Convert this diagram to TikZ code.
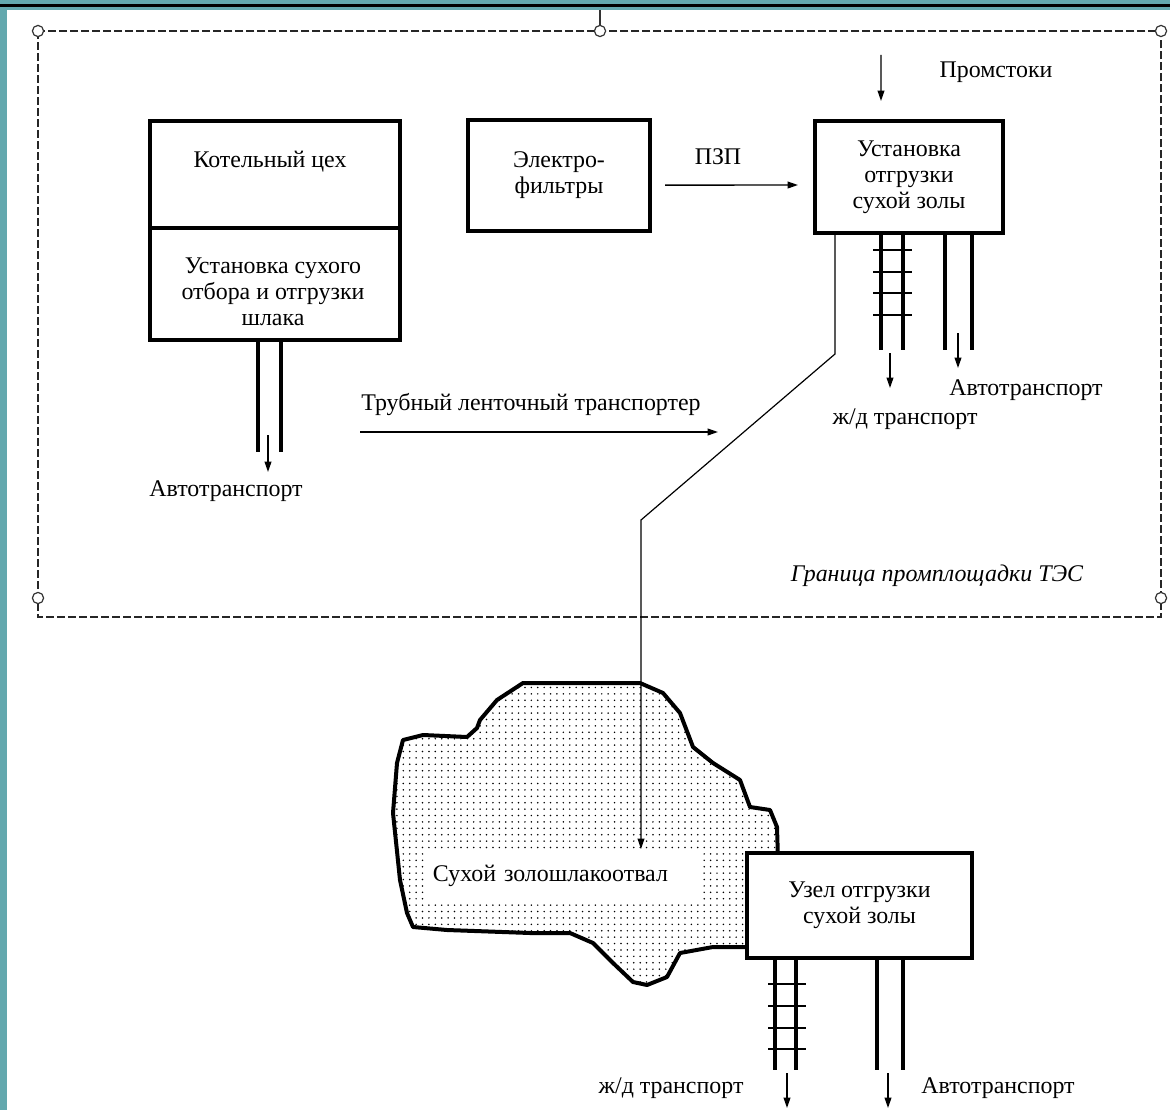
\documentclass[tikz,border=0pt]{standalone}
\usepackage{fontspec}
\setmainfont{Liberation Serif}
\usetikzlibrary{arrows.meta, patterns.meta, positioning}
\definecolor{frame}{RGB}{99,168,174}

\begin{document}
\begin{tikzpicture}[x=0.025cm, y=-0.025cm,
    every node/.style={font=\fontsize{17}{18.5}\selectfont, align=center, inner sep=0pt},
    box/.style={draw, line width=0.1cm, rectangle, inner sep=0pt},
    arr/.style={-{Triangle[length=0.26cm, width=0.17cm]}, line width=0.035cm},
    track/.style={line width=0.09cm},
    tie/.style={line width=0.05cm},
    handle/.style={draw=black!80, fill=white, line width=0.03cm, circle, minimum size=0.28cm}]
    \useasboundingbox (0,0) rectangle (1170,1110);
    % window frame
    \fill[frame] (0,0) rectangle (1170,10);
    \fill[frame] (0,10) rectangle (7,1110);
    \fill[black] (0,4) rectangle (1170,7);

    % site boundary
    \draw[black!85, line width=0.06cm, dash pattern=on 0.2cm off 0.075cm] (38,31) rectangle (1161,617);
    \draw[black!80, line width=0.03cm] (600,10) -- (600,26);
    \foreach \x/\y in {38/31, 600/31, 1161/31, 38/598, 1161/598}
        \node[handle] (hdl-\x-\y) at (\x,\y) {};
    \node[font=\fontsize{17}{18.5}\selectfont\itshape] (border) at (937,576) {Граница промплощадки ТЭС};

    % boiler house
    \node[box, minimum width=6.25cm, minimum height=2.675cm] (boiler) at (275,174.5) {};
    \node[box, minimum width=6.25cm, minimum height=2.8cm] (slag) at (275,284) {};
    \node (boilertxt) at (270,162) {Котельный цех};
    \node (slagtxt) at (273,292) {Установка сухого\\отбора и отгрузки\\шлака};
    \foreach \x in {258,281}
        \draw[track] (\x,340) -- (\x,452);
    \node (slagauto) at (226,491) {Автотранспорт};
    \coordinate (slagA) at (268,435);
    \coordinate (slagB) at (268,472);
    \draw[arr] (slagA) -- (slagB);

    % filters and ash unloading
    \node[box, minimum width=4.55cm, minimum height=2.775cm] (filters) at (559,175.5) {Электро-\\фильтры};
    \node[box, minimum width=4.7cm, minimum height=2.8cm] (unload) at (909,177) {Установка\\отгрузки\\сухой золы};
    \node (pzp) at (718,157) {ПЗП};
    \draw[arr] ([xshift=0.33cm, yshift=-0.24cm]filters.east) -- ([xshift=-0.375cm, yshift=-0.2cm]unload.west);
    \node (stoki) at (996,72) {Промстоки};
    \coordinate (stokiA) at (881,55);
    \draw[arr] (stokiA) -- ([xshift=-0.7cm, yshift=0.45cm]unload.north);

    \foreach \x in {881,903,945,972}
        \draw[track] (\x,233) -- (\x,350);
    \foreach \y in {250,272,293,315}
        \draw[tie] (873,\y) -- (912,\y);
    \node (rail1) at (905,419) {ж/д транспорт};
    \node (auto1) at (1026,390) {Автотранспорт};
    \coordinate (railA) at (890,353);
    \coordinate (railB) at (890,388);
    \coordinate (autoA) at (958,333);
    \coordinate (autoB) at (958,368);
    \draw[arr] (railA) -- (railB);
    \draw[arr] (autoA) -- (autoB);

    % belt conveyor
    \node (belt) at (531,405) {Трубный ленточный транспортер};
    \coordinate (beltA) at (360,432);
    \coordinate (beltB) at (718,432);
    \draw[arr] (beltA) -- (beltB);

    % dry ash dump
    \draw[line width=0.1cm, line join=round, pattern={Dots[distance=0.16cm, radius=0.6pt]}]
        (523,683) -- (640,683) -- (663,693) -- (680,713) -- (693,747) -- (713,763)
        -- (740,780) -- (750,807) -- (770,810) -- (777,827) -- (778,860) -- (760,947)
        -- (713,947) -- (680,953) -- (667,977) -- (647,985) -- (633,982) -- (613,963)
        -- (593,943) -- (570,933) -- (530,933) -- (447,930) -- (413,927) -- (407,913)
        -- (400,880) -- (393,813) -- (397,763) -- (403,740) -- (423,735) -- (467,737)
        -- (477,728) -- (480,720) -- (497,700) -- cycle;
    \node[fill=white, inner xsep=0.15cm, text width=6.525cm, minimum height=1.2cm, align=left] (dumptxt) at (563.5,876) {Сухой золошлакоотвал};
    \coordinate (dumpin) at (641,849);
    \draw[arr, line width=0.03cm] ([xshift=0.55cm]unload.south west) -- ++(0,119) -- (641,520) -- (dumpin);

    % ash unloading at the dump
    \node[box, fill=white, minimum width=5.625cm, minimum height=2.625cm] (unload2) at (859.5,905.5) {Узел отгрузки\\сухой золы};
    \foreach \x in {775,796,877,903}
        \draw[track] (\x,958) -- (\x,1070);
    \foreach \y in {984,1006,1028,1049}
        \draw[tie] (768,\y) -- (806,\y);
    \node (rail2) at (671,1088) {ж/д транспорт};
    \node (auto2) at (998,1088) {Автотранспорт};
    \coordinate (rail2A) at (787,1073);
    \coordinate (rail2B) at (787,1108);
    \coordinate (auto2A) at (888,1073);
    \coordinate (auto2B) at (888,1108);
    \draw[arr] (rail2A) -- (rail2B);
    \draw[arr] (auto2A) -- (auto2B);
\end{tikzpicture}
\end{document}
